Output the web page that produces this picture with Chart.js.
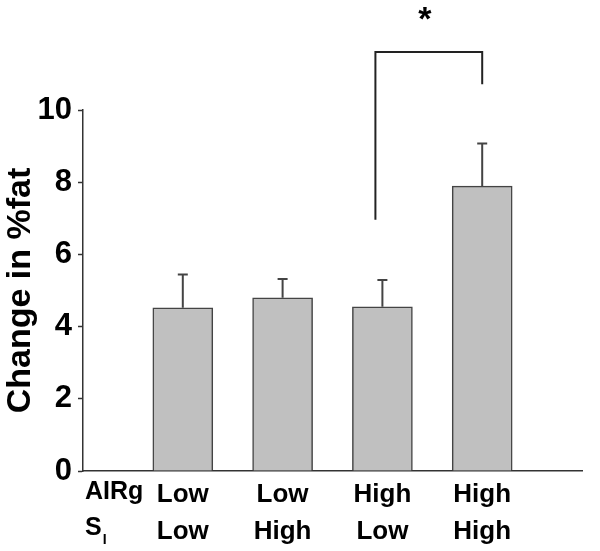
<!DOCTYPE html>
<html>
<head>
<meta charset="utf-8">
<script src="https://cdn.jsdelivr.net/npm/chart.js@4"></script>
<style>
  html, body { margin: 0; padding: 0; background: #fff; }
  #wrap { width: 600px; height: 551px; }
</style>
</head>
<body>
<div id="wrap"><canvas id="fatChart" width="600" height="551"></canvas></div>
<script>
/* change in %fat by AIRg / SI group - bar chart with upper error bars */
const groupPos = [1, 2, 3, 4];
const airgLabels = ['Low', 'Low', 'High', 'High'];
const siLabels = ['Low', 'High', 'Low', 'High'];
const fatChange = [4.52, 4.80, 4.55, 7.89];
const fatErrTop = [5.44, 5.32, 5.29, 9.07];
const yTicks = [0, 2, 4, 6, 8, 10];
// significance bracket between group 3 and 4: [x, y] in data units
const bracketX = [2.93, 2.93, 4.0, 4.0];
const bracketY = [6.96, 11.61, 11.61, 10.71];
const starY = 12.6;

const FONT = "'Liberation Sans', Arial, Helvetica, sans-serif";
const INK = '#222';

// error whiskers + star + row headers
const extrasPlugin = {
  id: 'extras',
  afterDatasetsDraw(chart) {
    const ctx = chart.ctx;
    const yScale = chart.scales.y;
    const xScale = chart.scales.x;
    const meta = chart.getDatasetMeta(0);

    ctx.save();
    ctx.strokeStyle = '#444';
    ctx.lineWidth = 2;
    meta.data.forEach((bar, i) => {
      const top = yScale.getPixelForValue(fatErrTop[i]);
      ctx.beginPath();
      ctx.moveTo(bar.x, bar.y);
      ctx.lineTo(bar.x, top);
      ctx.moveTo(bar.x - 5, top);
      ctx.lineTo(bar.x + 5, top);
      ctx.stroke();
    });

    // star over the bracket
    const midX = xScale.getPixelForValue((bracketX[0] + bracketX[3]) / 2) - 4;
    ctx.fillStyle = '#000';
    ctx.font = 'bold 34px ' + FONT;
    ctx.textAlign = 'center';
    ctx.textBaseline = 'middle';
    ctx.fillText('*', midX, yScale.getPixelForValue(starY) + 4);

    // row headers under the axis
    const row1 = 492, row2 = 528;
    ctx.font = 'bold 25px ' + FONT;
    ctx.textAlign = 'left';
    ctx.fillText('AIRg', 85, row1);
    ctx.fillText('S', 85, row2);
    const sw = ctx.measureText('S').width;
    ctx.font = 'bold 14px ' + FONT;
    ctx.fillText('I', 85 + sw + 1, row2 + 12);
    ctx.restore();
  }
};

const ctx = document.getElementById('fatChart').getContext('2d');
new Chart(ctx, {
  data: {
    datasets: [
      {
        type: 'bar',
        data: groupPos.map((x, i) => ({ x: x, y: fatChange[i] })),
        backgroundColor: '#c0c0c0',
        borderColor: '#444',
        borderWidth: 1.5,
        barThickness: 60,
        order: 2
      },
      {
        type: 'line',
        data: bracketX.map((x, i) => ({ x: x, y: bracketY[i] })),
        borderColor: INK,
        borderWidth: 2,
        pointRadius: 0,
        tension: 0,
        fill: false,
        clip: false,
        order: 1
      }
    ]
  },
  options: {
    responsive: false,
    animation: false,
    devicePixelRatio: 1,
    layout: { padding: { top: 110, right: 18, left: 0, bottom: 0 } },
    plugins: {
      legend: { display: false },
      tooltip: { enabled: false }
    },
    scales: {
      x: {
        type: 'linear',
        min: 0,
        max: 5,
        offset: false,
        afterBuildTicks: (scale) => { scale.ticks = groupPos.map(v => ({ value: v })); },
        afterFit: (scale) => { scale.height = 80; },
        ticks: {
          autoSkip: false,
          maxRotation: 0,
          padding: 6,
          color: '#000',
          font: { family: FONT, size: 26, weight: 'bold', lineHeight: 1.4 },
          callback: (v) => {
            const i = groupPos.indexOf(v);
            return i < 0 ? '' : [airgLabels[i], siLabels[i]];
          }
        },
        grid: { drawOnChartArea: false, drawTicks: false },
        border: { display: true, color: '#333', width: 1.5 }
      },
      y: {
        min: 0,
        max: 10,
        afterBuildTicks: (scale) => { scale.ticks = yTicks.map(v => ({ value: v })); },
        afterFit: (scale) => { scale.width = 83; },
        title: {
          display: true,
          text: 'Change in %fat',
          color: '#000',
          padding: 0,
          font: { family: FONT, size: 34, weight: 'bold' }
        },
        ticks: {
          padding: 6,
          color: '#000',
          font: { family: FONT, size: 31, weight: 'bold' }
        },
        grid: { drawOnChartArea: false, drawTicks: true, tickLength: 5, color: '#333', tickWidth: 1.5 },
        border: { display: true, color: '#333', width: 1.5 }
      }
    }
  },
  plugins: [extrasPlugin]
});
</script>
</body>
</html>
